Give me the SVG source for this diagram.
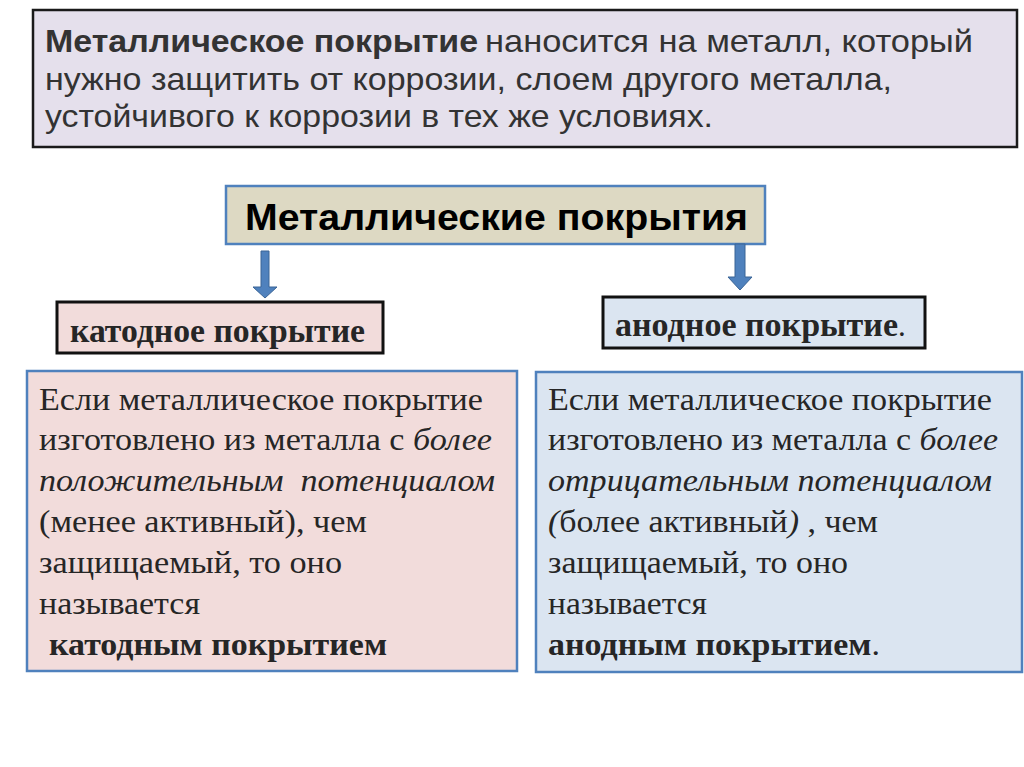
<svg xmlns="http://www.w3.org/2000/svg" width="1024" height="767" viewBox="0 0 1024 767">
<style>
.sans{font-family:"Liberation Sans",Arial,sans-serif}
.serif{font-family:"Liberation Serif","Times New Roman",serif}
.top{font-size:32px;fill:#333333}
.b{font-weight:bold}
.i{font-style:italic}
.body{font-size:31px;fill:#262626}
.lbl{font-size:33px;font-weight:bold;fill:#262626}
.blue{stroke:#4f81bd;stroke-width:2.5}
.blk{stroke:#111111;stroke-width:3}
.arrow{fill:#4f81bd;stroke:#3a6496;stroke-width:1}
</style>
<rect x="0" y="0" width="1024" height="767" fill="#ffffff"/>
<g id="definition">
<rect x="33" y="10" width="984" height="137" fill="#e5e0ec" stroke="#1a1a1a" stroke-width="2.5"/>
<text class="sans top b" x="45" y="52" textLength="433" lengthAdjust="spacingAndGlyphs" fill="#262626">Металлическое покрытие</text>
<text class="sans top" x="485" y="52" textLength="488" lengthAdjust="spacingAndGlyphs">наносится на металл, который</text>
<text class="sans top" x="45" y="90" textLength="847" lengthAdjust="spacingAndGlyphs">нужно защитить от коррозии, слоем другого металла,</text>
<text class="sans top" x="45" y="127" textLength="668" lengthAdjust="spacingAndGlyphs">устойчивого к коррозии в тех же условиях.</text>
</g>
<g id="title">
<rect x="226" y="186" width="539" height="58" fill="#ddd9c3" class="blue"/>
<text class="sans b" x="245" y="230" font-size="36" fill="#000000" textLength="503" lengthAdjust="spacingAndGlyphs">Металлические покрытия</text>
</g>
<g id="connectors">
<polygon class="arrow" points="261,251 269,251 269,287 277,287 265,298 253,287 261,287"/>
<polygon class="arrow" points="735,244 745,244 745,277 752,277 740,290 728,277 735,277"/>
</g>
<g id="cathode-label">
<rect x="57" y="302" width="326" height="51" fill="#f2dcdb" class="blk"/>
<text class="serif lbl" x="70" y="342" textLength="295" lengthAdjust="spacingAndGlyphs">катодное покрытие</text>
</g>
<g id="anode-label">
<rect x="603" y="297" width="322" height="51" fill="#dbe5f1" class="blk"/>
<text class="serif lbl" x="615" y="336" textLength="283" lengthAdjust="spacingAndGlyphs">анодное покрытие</text>
<text class="serif" x="898" y="336" font-size="31" fill="#262626">.</text>
</g>
<g id="cathode-text">
<rect x="27" y="371" width="490" height="300" fill="#f2dcdb" class="blue"/>
<text class="serif body" x="39" y="410" textLength="444" lengthAdjust="spacingAndGlyphs">Если металлическое покрытие</text>
<text class="serif body" x="39" y="450" textLength="453" lengthAdjust="spacingAndGlyphs">изготовлено из металла с <tspan class="i">более</tspan></text>
<text class="serif body i" x="39" y="491" textLength="456" lengthAdjust="spacingAndGlyphs" xml:space="preserve">положительным  потенциалом</text>
<text class="serif body" x="39" y="532" textLength="328" lengthAdjust="spacingAndGlyphs">(менее активный), чем</text>
<text class="serif body" x="39" y="573" textLength="303" lengthAdjust="spacingAndGlyphs">защищаемый, то оно</text>
<text class="serif body" x="39" y="614" textLength="161" lengthAdjust="spacingAndGlyphs">называется</text>
<text class="serif body b" x="49" y="655" textLength="338" lengthAdjust="spacingAndGlyphs">катодным покрытием</text>
</g>
<g id="anode-text">
<rect x="536" y="372" width="486" height="300" fill="#dbe5f1" class="blue"/>
<text class="serif body" x="548" y="410" textLength="444" lengthAdjust="spacingAndGlyphs">Если металлическое покрытие</text>
<text class="serif body" x="548" y="450" textLength="450" lengthAdjust="spacingAndGlyphs">изготовлено из металла с <tspan class="i">более</tspan></text>
<text class="serif body i" x="548" y="491" textLength="444" lengthAdjust="spacingAndGlyphs">отрицательным потенциалом</text>
<text class="serif body" x="548" y="532" textLength="330" lengthAdjust="spacingAndGlyphs"><tspan class="i">(</tspan>более активный<tspan class="i">)</tspan> , чем</text>
<text class="serif body" x="548" y="573" textLength="300" lengthAdjust="spacingAndGlyphs">защищаемый, то оно</text>
<text class="serif body" x="548" y="614" textLength="159" lengthAdjust="spacingAndGlyphs">называется</text>
<text class="serif body" x="548" y="655" textLength="332" lengthAdjust="spacingAndGlyphs"><tspan class="b">анодным покрытием</tspan>.</text>
</g>
</svg>
